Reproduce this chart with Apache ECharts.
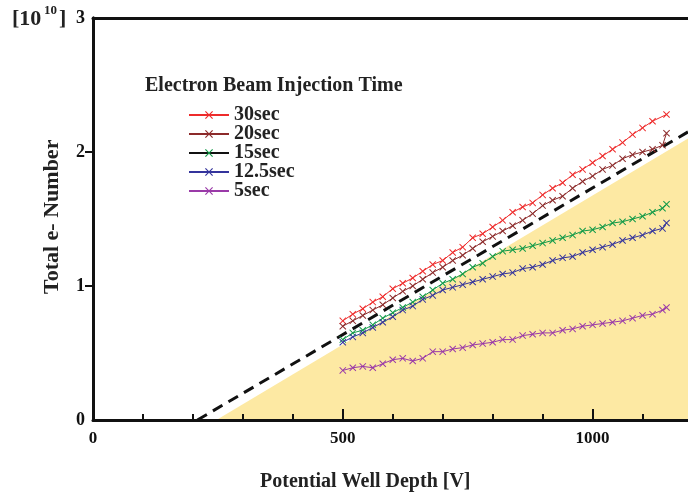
<!DOCTYPE html>
<html><head><meta charset="utf-8">
<script src="https://cdn.jsdelivr.net/npm/echarts@6/dist/echarts.min.js"></script>
<style>html,body{margin:0;padding:0;background:#fff}#c{width:688px;height:497px}</style>
</head><body><div id="c"></div>
<script>
// Potential well depth [V]
const depth = [500,520,540,560,580,600,620,640,660,680,700,720,740,760,780,800,820,840,860,880,900,920,940,960,980,1000,1020,1040,1060,1080,1100,1120,1140,1148];
const seriesNames = ['30sec','20sec','15sec','12.5sec','5sec'];
const sec30  = [0.74,0.79,0.83,0.88,0.92,0.98,1.02,1.06,1.11,1.16,1.19,1.25,1.29,1.36,1.39,1.44,1.49,1.55,1.59,1.62,1.68,1.73,1.77,1.83,1.87,1.92,1.97,2.02,2.07,2.13,2.18,2.23,null,2.28];
const sec20  = [0.70,0.74,0.78,0.82,0.86,0.91,0.96,1.00,1.05,1.10,1.14,1.19,1.23,1.28,1.33,1.37,1.41,1.45,1.49,1.54,1.60,1.64,1.67,1.73,1.78,1.82,1.87,1.90,1.95,1.98,2.00,2.02,2.05,2.14];
const sec15  = [0.60,0.65,0.67,0.71,0.76,0.80,0.84,0.88,0.92,0.97,1.02,1.05,1.09,1.14,1.17,1.22,1.26,1.27,1.28,1.30,1.32,1.34,1.36,1.38,1.41,1.42,1.44,1.47,1.48,1.50,1.52,1.55,1.58,1.61];
const sec12_5= [0.58,0.62,0.65,0.69,0.73,0.77,0.82,0.85,0.90,0.93,0.97,0.99,1.01,1.03,1.05,1.07,1.09,1.10,1.13,1.14,1.16,1.19,1.21,1.22,1.25,1.27,1.29,1.31,1.34,1.36,1.38,1.41,1.43,1.47];
const sec5   = [0.37,0.39,0.40,0.39,0.42,0.45,0.46,0.44,0.46,0.51,0.51,0.53,0.54,0.56,0.57,0.58,0.60,0.60,0.63,0.64,0.65,0.65,0.67,0.68,0.70,0.71,0.72,0.73,0.74,0.76,0.78,0.79,0.82,0.84];
// dashed reference line and shaded region boundary
const dashX = [209, 1191], dashY = [0, 2.15];
const fillX = [247, 1191], fillY = [0, 2.10];
const xTickLabels = [0, 500, 1000];
const xMinorTicks = [100, 200, 300, 400, 600, 700, 800, 900, 1100];
const yTickLabels = [0, 1, 2, 3];

const colors = ['#ee2b2b','#8c2a2a','#129a48','#34349c','#9a3aa8'];
const values = [sec30, sec20, sec15, sec12_5, sec5];
const FONT = 'Liberation Serif';
const xMark = 'path://M0,1 L1,0 L5,4 L9,0 L10,1 L6,5 L10,9 L9,10 L5,6 L1,10 L0,9 L4,5 Z';

const chart = echarts.init(document.getElementById('c'));
const dataSeries = seriesNames.map((n,i)=>({
  name:n, type:'line', z:5,
  data: depth.map((x,j)=>[x, values[i][j]]),
  connectNulls:true,
  symbol:xMark, symbolSize:7, showSymbol:true,
  lineStyle:{color: colors[i], width:1},
  itemStyle:{color:colors[i]},
  emphasis:{disabled:true}
}));

chart.setOption({
  animation:false,
  grid:{left:93, right:-3, top:18, bottom:77},
  xAxis:[
    {type:'value', min:0, max:1191, interval:100, position:'bottom', z:10,
     axisLine:{lineStyle:{color:'#111', width:3}},
     axisTick:{show:true, inside:true, length:11, customValues:xTickLabels, lineStyle:{color:'#111', width:2}},
     splitLine:{show:false},
     axisLabel:{margin:10, color:'#111', fontFamily:FONT, fontWeight:'bold', fontSize:17, customValues:xTickLabels,
       formatter:v=>String(v)}},
    {type:'value', min:0, max:1191, interval:100, position:'bottom', offset:0, z:10,
     axisLine:{show:false},
     axisTick:{show:true, inside:true, length:6, customValues:xMinorTicks, lineStyle:{color:'#111', width:2}},
     axisLabel:{show:false}, splitLine:{show:false}},
    {type:'value', min:0, max:1191, position:'top', z:10,
     axisLine:{lineStyle:{color:'#111', width:3}}, axisTick:{show:false},
     axisLabel:{show:false}, splitLine:{show:false}}
  ],
  yAxis:[
    {type:'value', min:0, max:3, interval:1, position:'left', z:10,
     axisLine:{show:true, lineStyle:{color:'#111', width:3}},
     axisTick:{show:false}, splitLine:{show:false},
     axisLabel:{margin:8, color:'#111', fontFamily:FONT, fontWeight:'bold', fontSize:18, customValues:yTickLabels,
       formatter:v=>String(v)}},
    {type:'value', min:0, max:3, interval:1, position:'right', z:10,
     axisLine:{show:true, lineStyle:{color:'#111', width:3}},
     axisTick:{show:true, inside:true, length:8, customValues:[1,2], lineStyle:{color:'#111', width:2}},
     axisLabel:{show:false}, splitLine:{show:false}}
  ],
  legend:{
    data:seriesNames.map(n=> n==='15sec' ? {name:n, lineStyle:{color:'#111'}} : n),
    orient:'vertical', left:183, top:100, padding:5,
    itemWidth:40, itemHeight:10, itemGap:-1,
    textStyle:{fontFamily:FONT, fontWeight:'bold', fontSize:20, color:'#222', lineHeight:19},
    selectedMode:false
  },
  graphic:[
    {type:'text', left:145, top:76, style:{text:'Electron Beam Injection Time', font:'bold 20px "Liberation Serif"', fill:'#222'}},
    {type:'text', left:12, top:8, style:{text:'[10', font:'bold 22px "Liberation Serif"', fill:'#222'}},
    {type:'text', left:44, top:4, style:{text:'10', font:'bold 13px "Liberation Serif"', fill:'#222'}},
    {type:'text', left:59, top:8, style:{text:']', font:'bold 22px "Liberation Serif"', fill:'#222'}},
    {type:'text', x:52, y:294, rotation:Math.PI/2, style:{text:'Total e- Number', font:'bold 22px "Liberation Serif"', fill:'#222', align:'left', verticalAlign:'middle'}},
    {type:'text', left:260, top:472, style:{text:'Potential Well Depth [V]', font:'bold 20px "Liberation Serif"', fill:'#222'}}
  ],
  series:[
    {type:'line', name:'fill', data:fillX.map((x,i)=>[x, fillY[i]]), symbol:'none', z:1,
     lineStyle:{width:0}, areaStyle:{color:'#fde9a3', opacity:1}, silent:true},
    {type:'line', name:'dash', data:dashX.map((x,i)=>[x, dashY[i]]), symbol:'none', z:3,
     lineStyle:{color:'#111', width:3, type:[11,7]}, silent:true},
    ...dataSeries
  ]
});
</script></body></html>
